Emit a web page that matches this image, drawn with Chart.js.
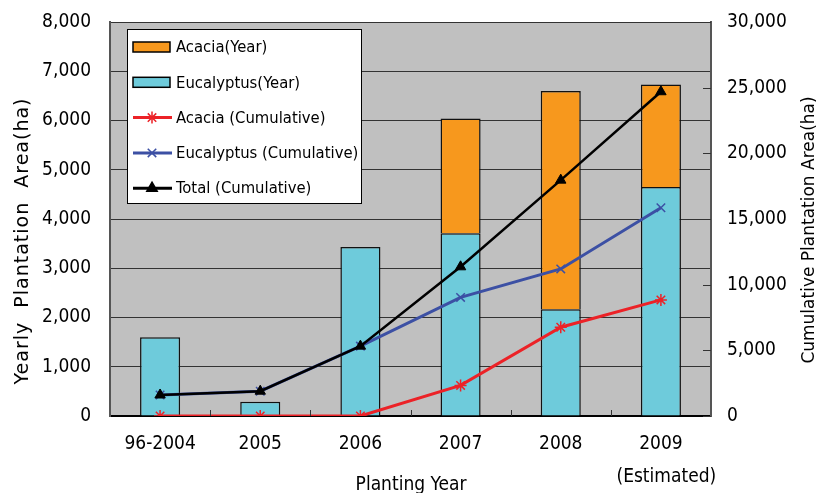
<!DOCTYPE html>
<html>
<head>
<meta charset="utf-8">
<script src="https://cdn.jsdelivr.net/npm/chart.js@4/dist/chart.umd.min.js"></script>
<style>
  html, body { margin: 0; padding: 0; background: #fff; }
  #plantation { display: block; }
</style>
</head>
<body>
<canvas id="plantation" width="826" height="493"></canvas>
<script>
// planting years (last one is an estimate)
const plantingYears = ['96-2004', '2005', '2006', '2007', '2008', ['2009', '  (Estimated)']];

// yearly plantation area (ha), left axis
const acaciaYear = [0, 0, 0, 2330, 4430, 2080];
const eucalyptusYear = [1600, 290, 3430, 3710, 2170, 4650];

// cumulative plantation area (ha), right axis
const acaciaCumulative = [0, 0, 0, 2330, 6760, 8840];
const eucalyptusCumulative = [1600, 1890, 5320, 9030, 11200, 15850];
const totalCumulative = [1600, 1890, 5320, 11360, 17960, 24690];

const yearlyTicks = [0, 1000, 2000, 3000, 4000, 5000, 6000, 7000, 8000];
const cumulativeTicks = [0, 5000, 10000, 15000, 20000, 25000, 30000];

const FONT = '"DejaVu Sans Condensed", "DejaVu Sans", sans-serif';
const WIDE_FONT = '"DejaVu Sans", sans-serif';
const fmt = v => Number(v).toLocaleString('en-US');

// grey plot area
const plotBackground = {
  id: 'plotBackground',
  beforeDraw(chart) {
    const { ctx, chartArea: a } = chart;
    ctx.save();
    ctx.fillStyle = '#c0c0c0';
    ctx.fillRect(a.left, a.top, a.right - a.left, a.bottom - a.top);
    ctx.restore();
  }
};

// inside tick marks, axis titles and the boxed legend
const decorations = {
  id: 'decorations',
  afterDraw(chart) {
    const { ctx, chartArea: a, scales } = chart;
    ctx.save();

    // small ticks between categories, pointing up
    ctx.strokeStyle = '#333';
    ctx.lineWidth = 1;
    const x = scales.x;
    for (let i = 1; i < plantingYears.length; i++) {
      const px = Math.round((x.getPixelForValue(i - 1) + x.getPixelForValue(i)) / 2) + 0.5;
      ctx.beginPath();
      ctx.moveTo(px, a.bottom);
      ctx.lineTo(px, a.bottom - 6);
      ctx.stroke();
    }
    // right axis ticks, pointing inward
    cumulativeTicks.forEach(v => {
      const py = Math.round(scales.y2.getPixelForValue(v)) + 0.5;
      ctx.beginPath();
      ctx.moveTo(a.right, py);
      ctx.lineTo(a.right - 8, py);
      ctx.stroke();
    });

    // axis titles
    ctx.fillStyle = '#000';
    ctx.textAlign = 'center';
    ctx.textBaseline = 'middle';
    ctx.font = '19px ' + FONT;
    ctx.fillText('Planting Year', 411, 485);

    ctx.save();
    ctx.translate(23, 241);
    ctx.rotate(-Math.PI / 2);
    ctx.font = '19px ' + WIDE_FONT;
    ctx.letterSpacing = '1px';
    ctx.fillText('Yearly  Plantation  Area(ha)', 0, 0);
    ctx.restore();

    ctx.save();
    ctx.translate(810, 230);
    ctx.rotate(-Math.PI / 2);
    ctx.font = '17px ' + WIDE_FONT;
    ctx.fillText('Cumulative Plantation Area(ha)', 0, 0);
    ctx.restore();

    // legend box
    const box = { left: 127, top: 29, right: 362, bottom: 204 };
    ctx.fillStyle = '#fff';
    ctx.fillRect(box.left, box.top, box.right - box.left, box.bottom - box.top);
    ctx.strokeStyle = '#000';
    ctx.lineWidth = 1;
    ctx.strokeRect(box.left + 0.5, box.top + 0.5, box.right - box.left - 1, box.bottom - box.top - 1);

    const legendOrder = [1, 0, 2, 3, 4];
    ctx.textAlign = 'left';
    ctx.font = '16.5px ' + FONT;
    legendOrder.forEach((di, row) => {
      const ds = chart.data.datasets[di];
      const cy = 47 + row * 35.3;
      if (ds.type === 'bar') {
        ctx.fillStyle = ds.backgroundColor;
        ctx.fillRect(133, cy - 5, 37, 10);
        ctx.strokeStyle = '#000';
        ctx.lineWidth = 1.5;
        ctx.strokeRect(133, cy - 5, 37, 10);
      } else {
        ctx.strokeStyle = ds.borderColor;
        ctx.fillStyle = ds.borderColor;
        ctx.lineWidth = 3;
        ctx.beginPath();
        ctx.moveTo(133, cy);
        ctx.lineTo(172, cy);
        ctx.stroke();
        ctx.lineWidth = 1.5;
        Chart.helpers.drawPoint(ctx, {
          pointStyle: ds.pointStyle, radius: 6, rotation: 0, borderWidth: 1.5
        }, 152, cy);
      }
      ctx.fillStyle = '#000';
      ctx.fillText(ds.label, 176, cy + 1);
    });

    ctx.restore();
  }
};

const tickFont = { family: FONT, size: 19, lineHeight: 1.75 };

// vertical axes: fixed width, and no extra room above/below for the end labels
const fixVertical = width => s => {
  s.width = width;
  s.paddingTop = 0;
  s.paddingBottom = 0;
};

new Chart(document.getElementById('plantation'), {
  data: {
    labels: plantingYears,
    datasets: [
      {
        type: 'bar', label: 'Eucalyptus(Year)', data: eucalyptusYear,
        backgroundColor: '#6ecbdb', borderColor: '#111', borderWidth: 1.5,
        stack: 'year', yAxisID: 'y', order: 2,
        barPercentage: 0.4, categoryPercentage: 1
      },
      {
        type: 'bar', label: 'Acacia(Year)', data: acaciaYear,
        backgroundColor: '#f7981d', borderColor: '#111', borderWidth: 1.5,
        stack: 'year', yAxisID: 'y', order: 2,
        barPercentage: 0.4, categoryPercentage: 1
      },
      {
        type: 'line', label: 'Acacia (Cumulative)', data: acaciaCumulative,
        borderColor: '#ec2227', backgroundColor: '#ec2227', borderWidth: 3,
        pointStyle: 'star', pointRadius: 6, pointBorderWidth: 1.5,
        yAxisID: 'y2', order: 1, tension: 0
      },
      {
        type: 'line', label: 'Eucalyptus (Cumulative)', data: eucalyptusCumulative,
        borderColor: '#3c50a4', backgroundColor: '#3c50a4', borderWidth: 3,
        pointStyle: 'crossRot', pointRadius: 6, pointBorderWidth: 1.5,
        yAxisID: 'y2', order: 1, tension: 0
      },
      {
        type: 'line', label: 'Total (Cumulative)', data: totalCumulative,
        borderColor: '#000', backgroundColor: '#000', borderWidth: 2.5,
        pointStyle: 'triangle', pointRadius: 6, pointBorderWidth: 1,
        yAxisID: 'y2', order: 0, tension: 0
      }
    ]
  },
  options: {
    responsive: false,
    devicePixelRatio: 1,
    animation: false,
    layout: { padding: { top: 22, left: 0, right: 0, bottom: 0 } },
    plugins: {
      legend: { display: false },
      tooltip: { enabled: false }
    },
    scales: {
      x: {
        stacked: true,
        offset: true,
        grid: { display: false, drawTicks: false },
        border: { color: '#000', width: 2 },
        ticks: { font: tickFont, color: '#000', padding: 11, maxRotation: 0, autoSkip: false },
        afterFit(s) { s.height = 77; }
      },
      y: {
        position: 'left',
        stacked: true,
        min: 0, max: 8000,
        afterBuildTicks(s) { s.ticks = yearlyTicks.map(v => ({ value: v })); },
        ticks: { font: { family: FONT, size: 19 }, color: '#000', padding: 19, callback: fmt },
        grid: { color: '#333', lineWidth: 1, drawTicks: false },
        border: { color: '#555', width: 2 },
        afterFit: fixVertical(110)
      },
      y2: {
        position: 'right',
        min: 0, max: 30000,
        afterBuildTicks(s) { s.ticks = cumulativeTicks.map(v => ({ value: v })); },
        ticks: { font: { family: FONT, size: 19 }, color: '#000', padding: 16, callback: fmt },
        grid: { drawOnChartArea: false, drawTicks: false },
        border: { color: '#555', width: 2 },
        afterFit: fixVertical(115)
      }
    }
  },
  plugins: [plotBackground, decorations]
});
</script>
</body>
</html>
